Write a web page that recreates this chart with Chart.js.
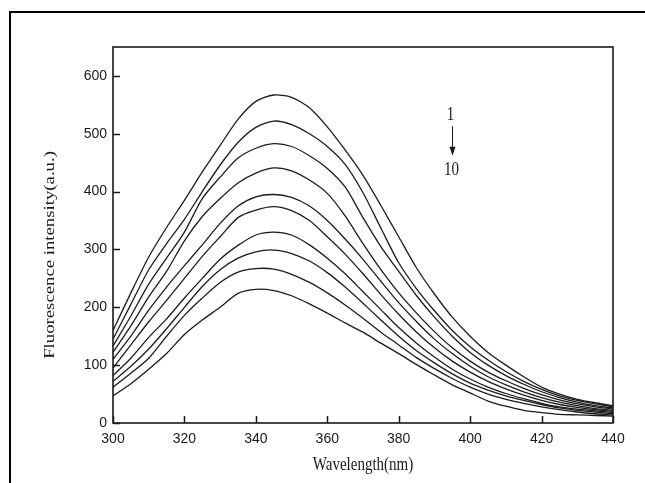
<!DOCTYPE html>
<html>
<head>
<meta charset="utf-8">
<script src="https://cdn.jsdelivr.net/npm/chart.js@4.4.1/dist/chart.umd.min.js"></script>
<style>
html,body{margin:0;padding:0;background:#fff;overflow:hidden;}
#wrap{position:relative;width:645px;height:483px;overflow:hidden;}
#frame{position:absolute;left:9px;top:11px;width:700px;height:600px;border-left:2px solid #000;border-top:2px solid #000;box-sizing:border-box;}
canvas{position:absolute;left:0;top:0;}
</style>
</head>
<body>
<div id="wrap"><div id="frame"></div><canvas id="c" width="645" height="483"></canvas></div>
<script>
const wavelengths = [300,305,310,315,320,325,330,335,340,345,350,355,360,365,370,375,380,385,390,395,400,405,410,415,420,425,430,435,440];
const curve1  = [160,225,287,338,385,434,480,525,556,567,563,545,512,472,428,376,322,268,223,183,150,122,100,80,62,50,41,35,30];
const curve2  = [145,205,265,310,352,400,446,485,511,522,516,500,478,447,398,337,277,232,194,160,132,109,89,72,58,47,39,33,28];
const curve3  = [133,185,240,285,330,388,425,458,475,483,478,462,440,408,355,305,262,220,183,150,122,100,82,67,54,44,36,30,26];
const curve4  = [122,168,218,262,315,357,388,415,432,441,436,420,397,358,310,265,225,190,158,130,107,88,73,60,49,40,33,28,24];
const curve5  = [110,150,195,235,272,308,345,375,391,395,390,375,350,318,283,245,208,175,145,120,98,80,66,54,44,36,30,25,22];
const curve6  = [95,135,175,212,250,288,322,355,368,374,367,350,322,292,258,222,188,157,130,107,88,72,59,48,39,32,27,23,20];
const curve7  = [82,112,148,180,216,250,283,307,325,330,325,308,285,258,227,196,165,138,114,93,76,62,51,42,34,28,24,21,18];
const curve8  = [72,98,128,163,200,236,265,285,296,299,293,280,260,235,207,178,150,125,104,85,69,57,47,39,32,26,22,19,16];
const curve9  = [62,86,112,150,186,216,243,261,267,266,257,243,225,204,181,157,135,113,94,77,62,50,41,34,28,23,19,16,14];
const curve10 = [47,68,93,120,153,178,200,224,231,229,220,206,190,173,157,138,120,101,83,66,52,38,29,22,18,15,14,13,12];
const xTicks = [300,320,340,360,380,400,420,440];
const yTicks = [0,100,200,300,400,500,600];
const xTitle = "Wavelength(nm)";
const yTitle = "Fluorescence intensity(a.u.)";
const annoTop = {x:394.5, y:532, text:"1"};
const annoArrow = {x:394.8, y1:513, y2:462};
const annoBottom = {x:394.8, y:437, text:"10"};

const series = [curve1,curve2,curve3,curve4,curve5,curve6,curve7,curve8,curve9,curve10];
const datasets = series.map((s,i)=>({
  label: String(i+1),
  data: wavelengths.map((w,j)=>({x:w,y:s[j]})),
  borderColor:'#1c1c1c',
  borderWidth:1.3,
  pointRadius:0,
  fill:false,
  tension:0.25
}));

const STRETCH = 1.2;
const decor = {
  id:'decor',
  afterDraw(chart){
    const ctx = chart.ctx, a = chart.chartArea;
    const xs = chart.scales.x, ys = chart.scales.y;
    ctx.save();
    ctx.strokeStyle = '#1a1a1a';
    ctx.lineWidth = 1.6;
    ctx.strokeRect(a.left, a.top, a.right-a.left, a.bottom-a.top);
    ctx.lineWidth = 1.5;
    ctx.beginPath();
    xTicks.forEach(v=>{ const px = Math.round(xs.getPixelForValue(v))+0.5; ctx.moveTo(px,a.bottom); ctx.lineTo(px,a.bottom-7); });
    yTicks.forEach(v=>{ const py = Math.round(ys.getPixelForValue(v))+0.5; ctx.moveTo(a.left,py); ctx.lineTo(a.left+7,py); });
    ctx.stroke();
    ctx.fillStyle = '#1a1a1a';
    ctx.font = '15px "Liberation Serif", "Times New Roman", serif';
    ctx.textAlign = 'center'; ctx.textBaseline = 'middle';
    ctx.save();
    ctx.translate((a.left+a.right)/2, 465);
    ctx.scale(1, STRETCH);
    ctx.fillText(xTitle, 0, 0);
    ctx.restore();
    ctx.save();
    ctx.translate(50, (a.top+a.bottom)/2+20);
    ctx.rotate(-Math.PI/2);
    ctx.scale(STRETCH+0.05, 1);
    ctx.fillText(yTitle, 0, 0);
    ctx.restore();
    ctx.save();
    ctx.translate(xs.getPixelForValue(annoTop.x), ys.getPixelForValue(annoTop.y));
    ctx.scale(1, STRETCH);
    ctx.fillText(annoTop.text, 0, 0);
    ctx.restore();
    ctx.save();
    ctx.translate(xs.getPixelForValue(annoBottom.x), ys.getPixelForValue(annoBottom.y));
    ctx.scale(1, STRETCH);
    ctx.fillText(annoBottom.text, 0, 0);
    ctx.restore();
    const ax = Math.round(xs.getPixelForValue(annoArrow.x))+0.5;
    const ay1 = ys.getPixelForValue(annoArrow.y1), ay2 = ys.getPixelForValue(annoArrow.y2);
    ctx.lineWidth = 1;
    ctx.beginPath(); ctx.moveTo(ax, ay1); ctx.lineTo(ax, ay2-8); ctx.stroke();
    ctx.beginPath(); ctx.moveTo(ax-3, ay2-9); ctx.lineTo(ax+3, ay2-9); ctx.lineTo(ax, ay2); ctx.closePath(); ctx.fill();
    ctx.restore();
  }
};

new Chart(document.getElementById('c'), {
  type:'line',
  data:{datasets},
  options:{
    responsive:false,
    animation:false,
    events:[],
    layout:{padding:{left:0, top:47, right:32, bottom:0}},
    plugins:{legend:{display:false}, tooltip:{enabled:false}},
    scales:{
      x:{
        type:'linear', min:300, max:440,
        grid:{display:false, drawTicks:false}, border:{display:false},
        afterBuildTicks:s=>{ s.ticks = xTicks.map(v=>({value:v})); },
        afterFit:s=>{ s.height = 60; },
        ticks:{padding:8, color:'#1a1a1a', font:{family:'"Liberation Sans", Arial, sans-serif', size:14}, maxRotation:0, autoSkip:false}
      },
      y:{
        type:'linear', min:0, max:650,
        grid:{display:false, drawTicks:false}, border:{display:false},
        afterBuildTicks:s=>{ s.ticks = yTicks.map(v=>({value:v})); },
        afterFit:s=>{ s.width = 113; },
        ticks:{padding:6, color:'#1a1a1a', font:{family:'"Liberation Sans", Arial, sans-serif', size:14}, autoSkip:false}
      }
    }
  },
  plugins:[decor]
});
</script>
</body>
</html>
